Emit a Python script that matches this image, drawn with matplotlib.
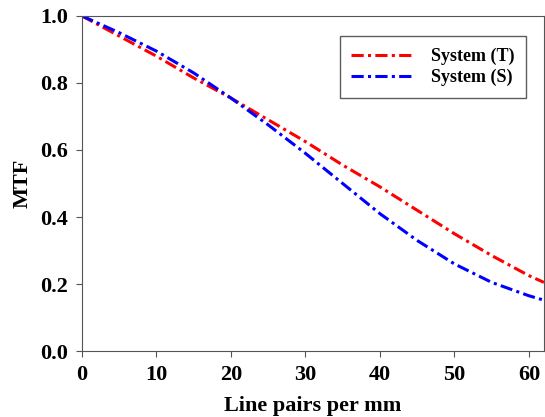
import matplotlib
matplotlib.use("Agg")
import matplotlib.pyplot as plt
import numpy as np

# line pairs per mm
freq = [0, 5, 10, 15, 20, 25, 30, 35, 40, 45, 50, 55, 60, 62]
# tangential / sagittal MTF
mtf_t = [1.0, 0.94, 0.88, 0.815, 0.755, 0.69, 0.625, 0.555, 0.49, 0.42, 0.35, 0.285, 0.225, 0.205]
mtf_s = [1.0, 0.95, 0.895, 0.83, 0.755, 0.675, 0.59, 0.50, 0.41, 0.33, 0.26, 0.205, 0.165, 0.152]
labels = ["System (T)", "System (S)"]

plt.rcParams['font.family'] = ['Liberation Serif', 'DejaVu Serif']
plt.rcParams['font.weight'] = 'bold'

fig = plt.figure(figsize=(5.45, 4.17), dpi=100)
ax = fig.add_axes([0.150, 0.158, 0.848, 0.804])

ax.plot(freq, mtf_t, color='red', lw=2.2, linestyle=(0, (4, 1.4, 1, 1.4)), label=labels[0])
ax.plot(freq, mtf_s, color='blue', lw=2.2, linestyle=(0, (4, 1.4, 1, 1.4)), label=labels[1])

ax.set_xlim(0, 62)
ax.set_ylim(0, 1.0)
ax.set_xticks([0, 10, 20, 30, 40, 50, 60])
ax.set_yticks([0.0, 0.2, 0.4, 0.6, 0.8, 1.0])
ax.set_yticklabels(["0.0", "0.2", "0.4", "0.6", "0.8", "1.0"])
ax.tick_params(labelsize=16, direction='out', length=4, color='#555555', pad=6)
for lab in ax.get_xticklabels() + ax.get_yticklabels():
    lab.set_fontweight('bold')
for sp in ax.spines.values():
    sp.set_color('#555555')

ax.set_xlabel("Line pairs per mm", fontsize=16, fontweight='bold', labelpad=8)
ax.set_ylabel("MTF", fontsize=16, fontweight='bold', labelpad=5)

leg = ax.legend(loc='upper right', bbox_to_anchor=(526 / 545, 1 - 36 / 417),
                bbox_transform=fig.transFigure, borderaxespad=0, fontsize=13,
                frameon=True, fancybox=False, edgecolor='#333333',
                handlelength=3.4, borderpad=0.65, labelspacing=0.2, handletextpad=1.0)
leg.get_frame().set_linewidth(1.0)

plt.savefig("out.png", dpi=100)
